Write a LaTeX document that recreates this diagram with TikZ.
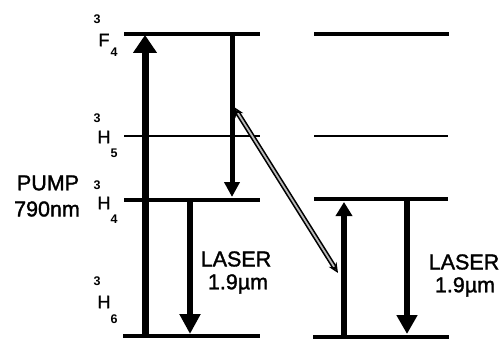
\documentclass[tikz,border=0pt]{standalone}
\usepackage{fontspec}
\setmainfont{Liberation Sans}
\newfontfamily\heavy[FakeBold=1.5]{Liberation Sans}
\usetikzlibrary{arrows.meta}
\begin{document}
\begin{tikzpicture}[x=1pt,y=-1pt,
  level/.style={line width=3.6pt},
  thinlevel/.style={line width=2pt},
  big/.style={font=\heavy\fontsize{21.5}{23}\selectfont, inner sep=0pt},
  term/.style={font=\heavy\fontsize{18}{20}\selectfont, inner sep=0pt},
  idx/.style={font=\bfseries\fontsize{12.5}{14}\selectfont, inner sep=0pt}]
\useasboundingbox (0,0) rectangle (503,353);
% level endpoints
\coordinate (LF1) at (124,34);  \coordinate (LF2) at (260,34);
\coordinate (LH51) at (124,136); \coordinate (LH52) at (260,136);
\coordinate (LH41) at (124,200); \coordinate (LH42) at (260,200);
\coordinate (LH61) at (123,336); \coordinate (LH62) at (260,336);
\coordinate (RF1) at (314,34);  \coordinate (RF2) at (449,34);
\coordinate (RH51) at (314,136); \coordinate (RH52) at (448,136);
\coordinate (RH41) at (314,199); \coordinate (RH42) at (448,199);
\coordinate (RH61) at (313,337); \coordinate (RH62) at (449,337);
\draw[level] (LF1) -- (LF2);
\draw[thinlevel] (LH51) -- (LH52);
\draw[level] (LH41) -- (LH42);
\draw[level] (LH61) -- (LH62);
\draw[level] (RF1) -- (RF2);
\draw[thinlevel] (RH51) -- (RH52);
\draw[level] (RH41) -- (RH42);
\draw[level] (RH61) -- (RH62);
% arrows
\coordinate (pA) at (145,336); \coordinate (pB) at (145,35);
\draw[line width=7pt,-{Triangle[width=23pt,length=18pt]}] (pA) -- (pB);
\coordinate (dA) at (232,34); \coordinate (dB) at (232,197);
\draw[line width=5pt,-{Triangle[width=15pt,length=15pt]}] (dA) -- (dB);
\coordinate (lA) at (190,200); \coordinate (lB) at (190,334);
\draw[line width=6pt,-{Triangle[width=20pt,length=20pt]}] (lA) -- (lB);
\coordinate (uA) at (344,337); \coordinate (uB) at (344,202);
\draw[line width=5.5pt,-{Triangle[width=16pt,length=14pt]}] (uA) -- (uB);
\coordinate (rA) at (407,199); \coordinate (rB) at (407,334);
\draw[line width=6.5pt,-{Triangle[width=20pt,length=19pt]}] (rA) -- (rB);
% diagonal cross-relaxation arrow
\coordinate (xA) at (234,107); \coordinate (xB) at (338,273);
\draw[line width=1.6pt, double=gray!55, double distance=1.8pt,
  {Stealth[open,width=9pt,length=10pt,fill=gray!55]}-{Stealth[open,width=9pt,length=10pt,fill=gray!55]}] (xA) -- (xB);
% labels
\node[idx] (s1) at (97,19) {3};
\node[term] (t1) at (104,40) {F};
\node[idx] (b1) at (114,52) {4};
\node[idx] (s2) at (97,118) {3};
\node[term] (t2) at (104,137) {H};
\node[idx] (b2) at (114,153) {5};
\node[idx] (s3) at (97,185) {3};
\node[term] (t3) at (104,203) {H};
\node[idx] (b3) at (114,219) {4};
\node[idx] (s4) at (97,281) {3};
\node[term] (t4) at (104,302) {H};
\node[idx] (b4) at (114,319) {6};
\node[big] (pump) at (48,183) {PUMP};
\node[big] (pnm) at (47,209) {790nm};
\node[big] (las1) at (236,259) {LASER};
\node[big] (lum1) at (238,284) {1.9µm};
\node[big] (las2) at (464,262) {LASER};
\node[big] (lum2) at (465,287) {1.9µm};
\end{tikzpicture}
\end{document}
